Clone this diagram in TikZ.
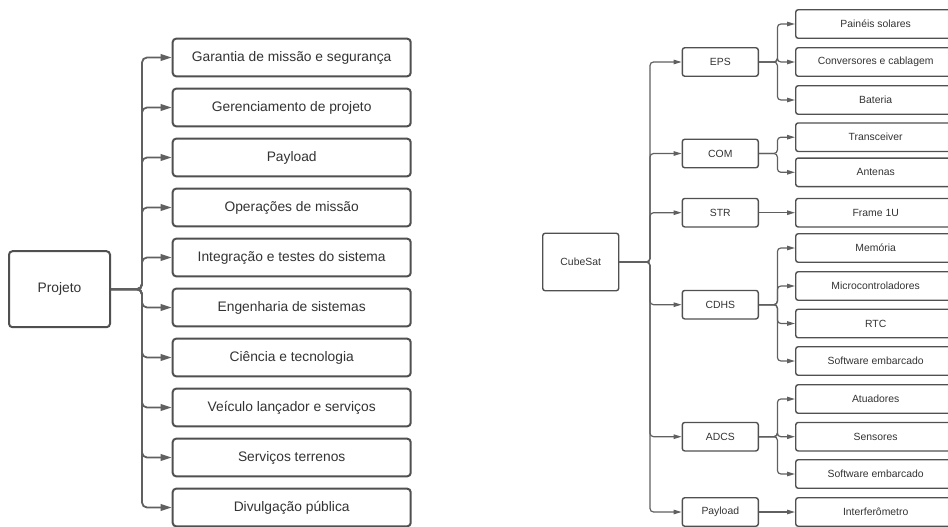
\documentclass[tikz,border=0pt]{standalone}
\usepackage{fontspec}
\setmainfont{Liberation Sans}
\usetikzlibrary{arrows.meta}
\definecolor{boxc}{HTML}{505050}
\definecolor{linec}{HTML}{606060}
\definecolor{txtc}{HTML}{333333}
\tikzset{
  bigbox/.style={draw=boxc, line width=2pt, rounded corners=3.5pt, fill=white,
    minimum width=238pt, minimum height=37.7pt, inner sep=0pt, text=txtc,
    font=\fontsize{13.8}{16}\selectfont},
  rootbox/.style={bigbox, minimum width=101pt, minimum height=76pt},
  smallbox/.style={draw=boxc, line width=1.4pt, rounded corners=2.5pt, fill=white,
    minimum width=76pt, minimum height=28.5pt, inner sep=0pt, text=txtc,
    font=\fontsize{10.4}{12}\selectfont},
  leafbox/.style={smallbox, minimum width=160pt},
  cubebox/.style={smallbox, minimum height=57.5pt},
  bigarrow/.style={draw=linec, line width=1.8pt, rounded corners=5pt,
    -{Triangle[length=11pt,width=6.5pt]}},
  smallarrow/.style={draw=linec, line width=1.2pt, rounded corners=3.5pt,
    -{Triangle[length=8pt,width=4.5pt]}},
}
\begin{document}
\begin{tikzpicture}[x=1pt,y=-1pt]
\useasboundingbox (0,0) rectangle (948,527);
\clip (0,0) rectangle (948,527);
% ---------- left tree ----------
\node[rootbox] (proj) at (59.5,289.2) {Projeto};
\node[bigbox] (l1) at (291.7,57.5) {Garantia de missão e segurança};
\node[bigbox] (l2) at (291.7,107.5) {Gerenciamento de projeto};
\node[bigbox] (l3) at (291.7,157.5) {Payload};
\node[bigbox] (l4) at (291.7,207.5) {Operações de missão};
\node[bigbox] (l5) at (291.7,257.5) {Integração e testes do sistema};
\node[bigbox] (l6) at (291.7,307.5) {Engenharia de sistemas};
\node[bigbox] (l7) at (291.7,357.5) {Ciência e tecnologia};
\node[bigbox] (l8) at (291.7,407.5) {Veículo lançador e serviços};
\node[bigbox] (l9) at (291.7,457.5) {Serviços terrenos};
\node[bigbox] (l10) at (291.7,507.5) {Divulgação pública};
\foreach \i in {1,...,10}{
  \draw[bigarrow] (proj.east) -- (142,289.2) |- (l\i.west);
}
% ---------- right tree ----------
\node[cubebox] (cube) at (580.7,262) {CubeSat};
\node[smallbox] (eps) at (720.3,62) {EPS};
\node[smallbox] (com) at (720.3,153.5) {COM};
\node[smallbox] (str) at (720.3,212.7) {STR};
\node[smallbox] (cdhs) at (720.3,304.7) {CDHS};
\node[smallbox] (adcs) at (720.3,436.7) {ADCS};
\node[smallbox] (pay) at (720.3,512) {Payload};
\foreach \n in {eps,com,str,cdhs,adcs,pay}{
  \draw[smallarrow] (cube.east) -- (650,262) |- (\n.west);
}
\node[leafbox] (pan) at (875.7,24) {Painéis solares};
\node[leafbox] (conv) at (875.7,62) {Conversores e cablagem};
\node[leafbox] (bat) at (875.7,100) {Bateria};
\node[leafbox] (trx) at (875.7,137.2) {Transceiver};
\node[leafbox] (ant) at (875.7,172.3) {Antenas};
\node[leafbox] (frm) at (875.7,212.7) {Frame 1U};
\node[leafbox] (mem) at (875.7,248) {Memória};
\node[leafbox] (mcu) at (875.7,286) {Microcontroladores};
\node[leafbox] (rtc) at (875.7,323.5) {RTC};
\node[leafbox] (sw1) at (875.7,361) {Software embarcado};
\node[leafbox] (atu) at (875.7,399) {Atuadores};
\node[leafbox] (sen) at (875.7,436.7) {Sensores};
\node[leafbox] (sw2) at (875.7,474) {Software embarcado};
\node[leafbox] (int) at (875.7,512) {Interferômetro};
\foreach \p/\c in {eps/pan,eps/conv,eps/bat,com/trx,com/ant,
                   cdhs/mem,cdhs/mcu,cdhs/rtc,cdhs/sw1,
                   adcs/atu,adcs/sen,adcs/sw2}{
  \draw[smallarrow] (\p.east) -- ([xshift=18.4pt]\p.east) |- (\c.west);
}
\draw[smallarrow] (str.east) -- (frm.west);
\draw[smallarrow] (pay.east) -- (int.west);
\end{tikzpicture}
\end{document}
